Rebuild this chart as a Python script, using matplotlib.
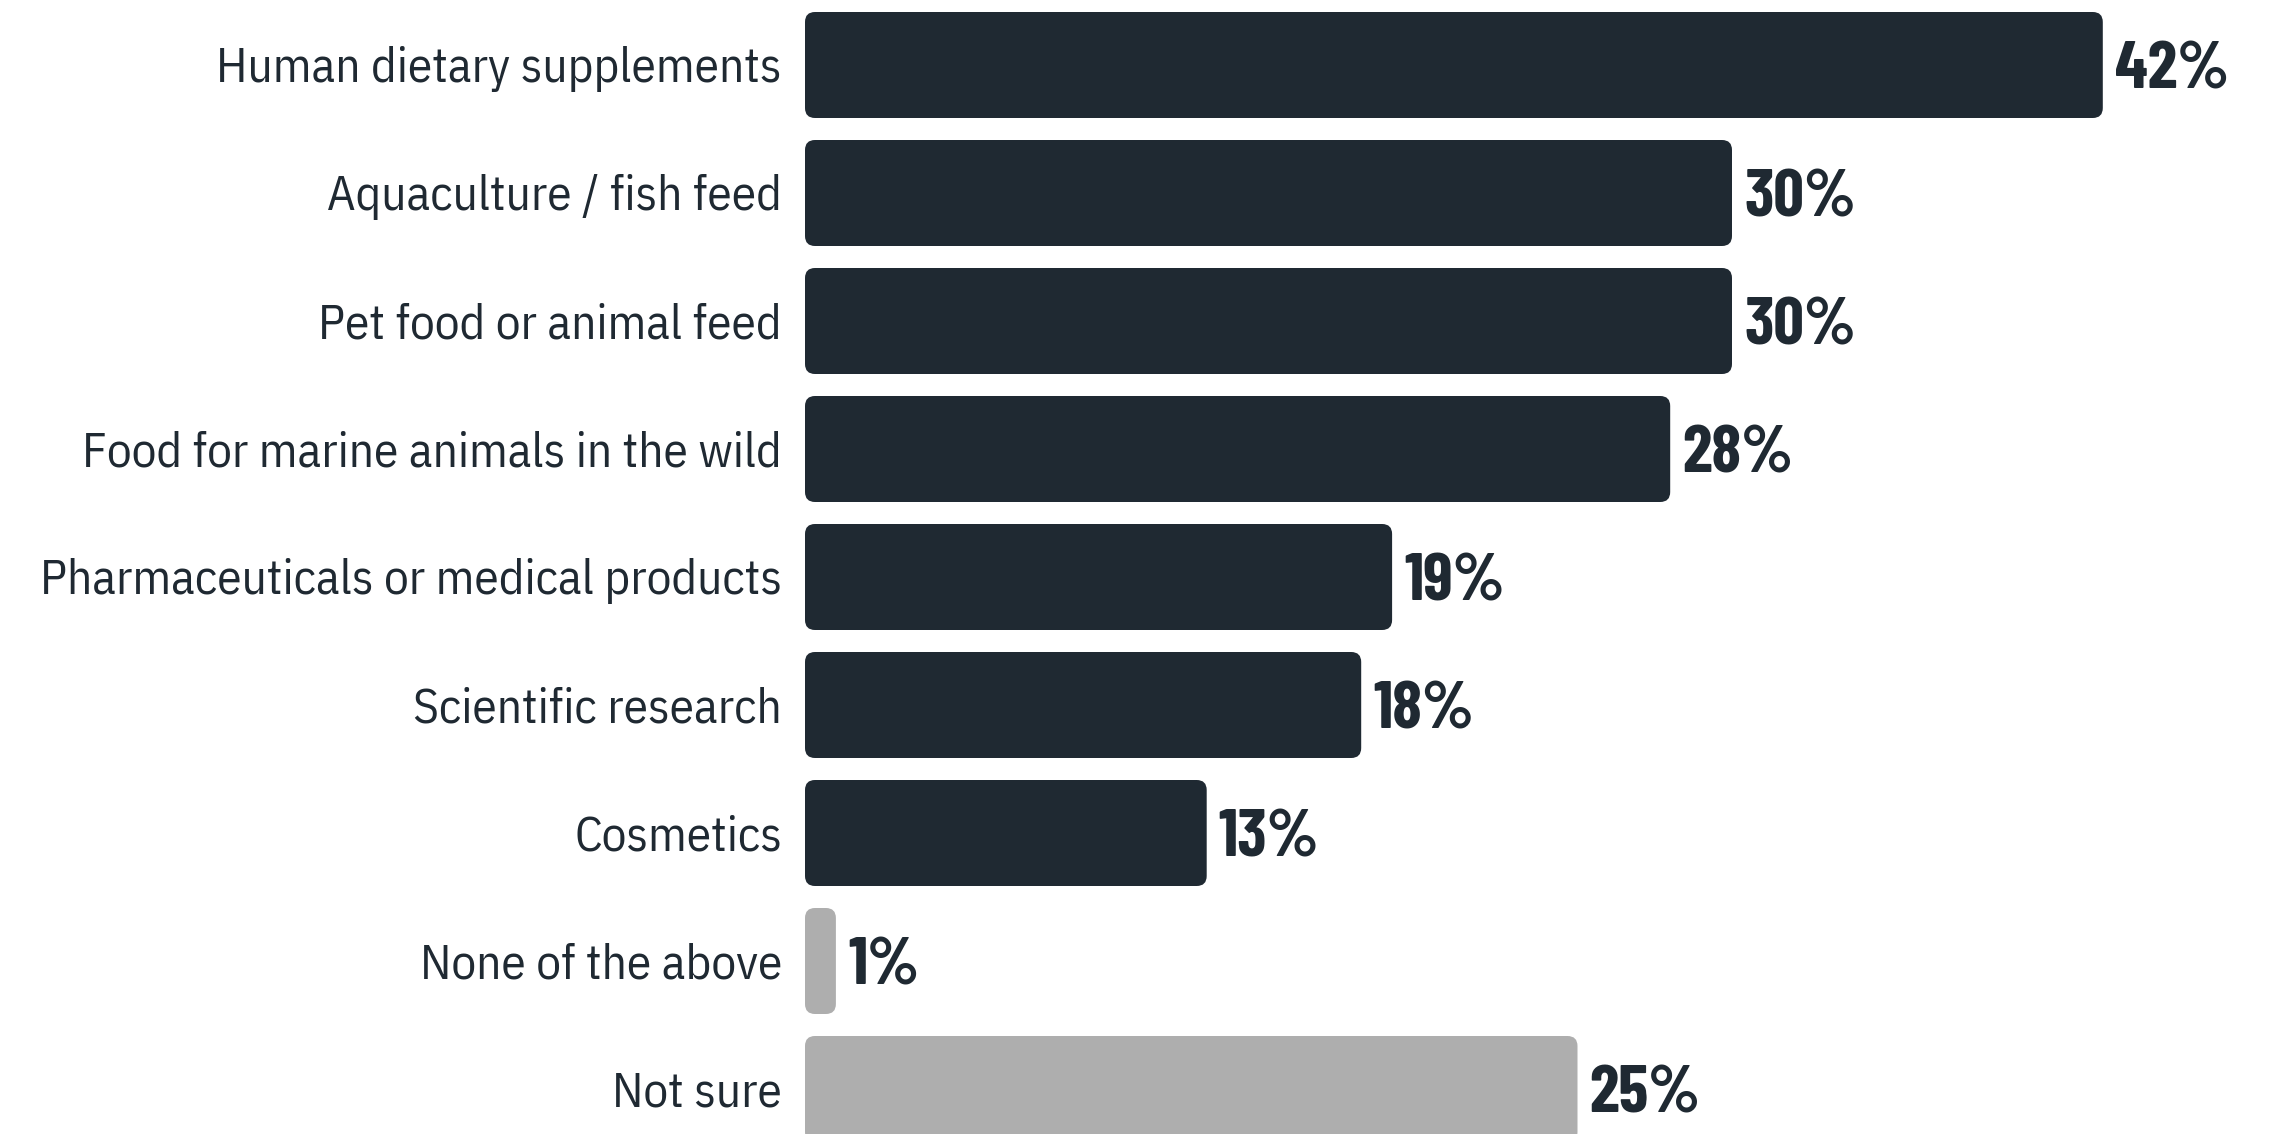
import matplotlib
matplotlib.use("Agg")
import matplotlib.pyplot as plt
from matplotlib.patches import FancyBboxPatch
from matplotlib import font_manager
from matplotlib.font_manager import FontProperties

categories = [
    "Human dietary supplements",
    "Aquaculture / fish feed",
    "Pet food or animal feed",
    "Food for marine animals in the wild",
    "Pharmaceuticals or medical products",
    "Scientific research",
    "Cosmetics",
    "None of the above",
    "Not sure",
]
values = [42, 30, 30, 28, 19, 18, 13, 1, 25]
value_labels = ["42%", "30%", "30%", "28%", "19%", "18%", "13%", "1%", "25%"]
is_gray = [False, False, False, False, False, False, False, True, True]

DARK = "#1f2932"
GRAY = "#aeaeae"


def pick_font(candidates, weight):
    entries = font_manager.fontManager.ttflist
    for cand in candidates:
        opts = [f for f in entries if f.name == cand and f.style == "normal"
                and f.fname.lower().endswith((".ttf", ".otf"))]
        if opts:
            best = min(opts, key=lambda f: abs((f.weight if isinstance(f.weight, int) else 400) - weight))
            return FontProperties(fname=best.fname), cand
    return FontProperties(family="DejaVu Sans", stretch="condensed",
                          weight=weight), "DejaVu Sans"


label_fp, label_name = pick_font(["IBM Plex Sans Condensed", "Barlow Semi Condensed",
                                  "Roboto Condensed", "Archivo Narrow"], 400)
value_fp, value_name = pick_font(["Barlow Condensed", "Roboto Condensed",
                                  "Asap Condensed"], 700)

W, H = 2274, 1134
fig = plt.figure(figsize=(W / 100, H / 100), dpi=100)
left_px = 805
px_per_unit = 30.9
row_px = 128
first_center = 65
ax = fig.add_axes([left_px / W, 0, (W - left_px) / W, 1])
ax.set_xlim(0, (W - left_px) / px_per_unit)
ax.set_ylim((H - first_center) / row_px, -first_center / row_px)
ax.axis("off")

renderer = fig.canvas.get_renderer()


def fit_size(fp, text, base, target_w):
    t = fig.text(0, 0, text, fontproperties=fp, fontsize=base)
    w = t.get_window_extent(renderer).width
    t.remove()
    return min(base, base * target_w / w)


label_size = fit_size(label_fp, "Pharmaceuticals or medical products", 36, 742)
value_size = fit_size(value_fp, "42%", 53, 114)

bar_h = 106 / row_px
r_x = 10 / px_per_unit
aspect = (10 / row_px) / r_x
cap_lab = 17.5 / row_px * label_size / 36
cap_val = 25.5 / row_px * value_size / 52

for i, (cat, v, lab, g) in enumerate(zip(categories, values, value_labels, is_gray)):
    col = GRAY if g else DARK
    p = FancyBboxPatch((0, i - bar_h / 2), v, bar_h,
                       boxstyle=f"round,pad=0,rounding_size={r_x}",
                       mutation_aspect=aspect, facecolor=col, edgecolor="none")
    ax.add_patch(p)
    ax.text(-23 / px_per_unit, i + cap_lab, cat, ha="right", va="baseline",
            fontproperties=label_fp, fontsize=label_size, color=DARK, clip_on=False)
    ax.text(v + 12 / px_per_unit, i + cap_val, lab, ha="left", va="baseline",
            fontproperties=value_fp, fontsize=value_size, color=DARK, clip_on=False)

fig.savefig("out.png", dpi=100)
